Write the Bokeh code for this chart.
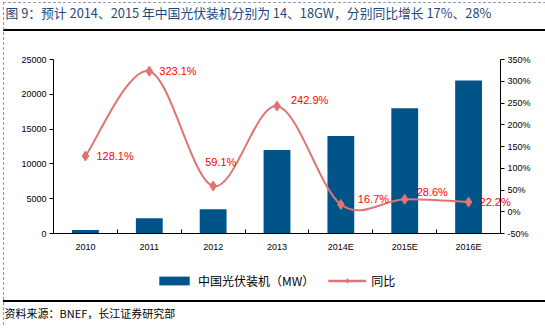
from bokeh.plotting import figure
from bokeh.models import (Range1d, LinearAxis, FixedTicker, Legend, LegendItem,
                          ColumnDataSource, NumeralTickFormatter, Title)
from bokeh.core.properties import value
from bokeh.embed import file_html
from bokeh.resources import INLINE

# ---- data ----
years = ["2010", "2011", "2012", "2013", "2014E", "2015E", "2016E"]
capacity_mw = [520, 2200, 3500, 12000, 14000, 18000, 22000]
yoy_pct = [128.1, 323.1, 59.1, 242.9, 16.7, 28.6, 22.2]
left_ticks = [0, 5000, 10000, 15000, 20000, 25000]
right_ticks = [-50, 0, 50, 100, 150, 200, 250, 300, 350]

title_text = "图 9：预计 2014、2015 年中国光伏装机分别为 14、18GW，分别同比增长 17%、28%"
source_text = "资料来源：BNEF，长江证券研究部"
bar_name = "中国光伏装机（MW）"
line_name = "同比"

# label placement (screen px offsets) - style only
lab_dx = [11, 10, -8, 14, 17, 12, 11]
lab_dy = [0, 0, -24, -6, -5, -7, 0]

BAR = "#005487"
LINE = "#E07474"
CJK = "Noto Sans CJK SC"
LAT = "Liberation Sans"
DASH = "#8C9BB5"

# layout geometry (px)
LEFT = 53         # left axis position
AX_R = 500        # right axis position
FT = 50           # frame top (a little above the axes so top labels are not clipped)
AX_TOP = 59       # top of value axes
AXIS_Y = 233      # where the value 0 sits
FB = 300          # frame bottom (frame extends down to hold the legend)
PAGE_W = 545
ncat = len(years)
cat_px = (AX_R - LEFT) / ncat
axis_h = AXIS_Y - AX_TOP
ext_dn = (FB - AXIS_Y) / axis_h
ext_up = (AX_TOP - FT) / axis_h
x_end = -0.5 + (PAGE_W - LEFT) / cat_px

ymax, pmin, pmax = 25000, -50, 350
xs = list(range(ncat))

p = figure(frame_width=PAGE_W - LEFT, frame_height=FB - FT, output_backend="svg",
           toolbar_location=None,
           x_range=Range1d(-0.5, x_end),
           y_range=Range1d(-ymax * ext_dn, ymax + ymax * ext_up),
           min_border_left=LEFT, min_border_right=0, min_border_top=FT,
           min_border_bottom=0, x_axis_location=None, y_axis_location=None)
p.outline_line_color = None
p.xgrid.visible = False
p.ygrid.visible = False
p.border_fill_alpha = 0
p.background_fill_alpha = 0
prange = pmax - pmin
p.extra_y_ranges = {"pct": Range1d(pmin - prange * ext_dn, pmax + prange * ext_up),
                    "legend_only": Range1d(10000, 20000)}

# header title (spacer keeps it at the top of the page)
p.add_layout(Title(text=" ", text_font_size="2px", standoff=25), "above")
p.add_layout(Title(text=title_text, align="left", offset=-48, standoff=0,
                   vertical_align="bottom",
                   text_font=CJK, text_font_size="12.8px", text_font_style="normal",
                   text_color="#1F497D"), "above")

xaxis = LinearAxis(ticker=FixedTicker(ticks=xs, minor_ticks=[i - 0.5 for i in range(ncat + 1)]),
                   major_label_overrides={i: y for i, y in enumerate(years)},
                   fixed_location=0, bounds=(-0.5, ncat - 0.5))
xaxis.major_tick_line_color = None
xaxis.minor_tick_in = 4
xaxis.minor_tick_out = 0
xaxis.minor_tick_line_color = "black"
xaxis.major_label_text_font = LAT
xaxis.major_label_text_font_size = "9px"
xaxis.major_label_text_color = "black"
xaxis.major_label_standoff = 2
p.add_layout(xaxis, "below")

laxis = LinearAxis(ticker=FixedTicker(ticks=left_ticks), bounds=(0, ymax))
laxis.minor_tick_line_color = None
laxis.major_tick_in = 0
laxis.major_tick_out = 4
laxis.major_label_text_font = LAT
laxis.major_label_text_font_size = "9px"
laxis.major_label_text_color = "black"
laxis.major_label_standoff = 3
laxis.formatter = NumeralTickFormatter(format="0")
p.add_layout(laxis, "left")

raxis = LinearAxis(y_range_name="pct", ticker=FixedTicker(ticks=right_ticks),
                   bounds=(pmin, pmax), fixed_location=ncat - 0.5,
                   major_label_overrides={t: f"{t}%" for t in right_ticks})
raxis.minor_tick_line_color = None
raxis.major_tick_in = 0
raxis.major_tick_out = 4
raxis.major_label_text_font = LAT
raxis.major_label_text_font_size = "9px"
raxis.major_label_text_color = "black"
raxis.major_label_standoff = 3
p.add_layout(raxis, "right")

bars = p.vbar(x=xs, top=capacity_mw, width=0.42, fill_color=BAR, line_color=None)

# smooth line: cubic bezier segments with Catmull-Rom control points from the data
n = len(xs)
bz = dict(x0=[], y0=[], x1=[], y1=[], cx0=[], cy0=[], cx1=[], cy1=[])
for i in range(n - 1):
    pm = i - 1 if i > 0 else i
    pn = i + 2 if i + 2 < n else i + 1
    bz["x0"].append(xs[i]); bz["y0"].append(yoy_pct[i])
    bz["x1"].append(xs[i + 1]); bz["y1"].append(yoy_pct[i + 1])
    bz["cx0"].append(xs[i] + (xs[i + 1] - xs[pm]) / 6)
    bz["cy0"].append(yoy_pct[i] + (yoy_pct[i + 1] - yoy_pct[pm]) / 6)
    bz["cx1"].append(xs[i + 1] - (xs[pn] - xs[i]) / 6)
    bz["cy1"].append(yoy_pct[i + 1] - (yoy_pct[pn] - yoy_pct[i]) / 6)
bez_r = p.bezier(source=ColumnDataSource(bz), x0="x0", y0="y0", x1="x1", y1="y1",
                 cx0="cx0", cy0="cy0", cx1="cx1", cy1="cy1",
                 line_color=LINE, line_width=2, y_range_name="pct")
marks = p.scatter(x=xs, y=yoy_pct, marker="diamond", size=10, fill_color=LINE,
                  line_color=LINE, y_range_name="pct")

src = ColumnDataSource(dict(x=xs, y=yoy_pct, t=[f"{v:.1f}%" for v in yoy_pct],
                            dx=lab_dx, dy=lab_dy))
p.text(x="x", y="y", text="t", x_offset="dx", y_offset="dy", source=src,
       text_color="#FF0000", text_font=value(LAT), text_font_size="11px",
       text_align="left", text_baseline="middle", y_range_name="pct")

# line renderer used only for the legend swatch (mapped to a range where it is off-frame)
line_r = p.line(x=xs, y=yoy_pct, line_color=LINE, line_width=2.5,
                y_range_name="legend_only")
legend = Legend(items=[LegendItem(label=bar_name, renderers=[bars]),
                       LegendItem(label=line_name, renderers=[line_r, bez_r, marks])],
                orientation="horizontal", location=(102, FB - 289),
                glyph_width=38, glyph_height=11, label_height=12, label_standoff=5,
                spacing=14, label_text_font=CJK, label_text_font_size="12px",
                label_text_color="black",
                background_fill_alpha=0, border_line_color=None, padding=0, margin=0)
p.add_layout(legend, "center")

# footer source
p.add_layout(Title(text=source_text, align="left", offset=-49, standoff=8,
                   vertical_align="top",
                   text_font=CJK, text_font_size="11px", text_font_style="normal",
                   text_color="black"), "below")

bg = (f"repeating-linear-gradient(to bottom, {DASH} 0 3px, transparent 3px 5px) 3px 2px / 1px 324px no-repeat, "
      f"repeating-linear-gradient(to right, {DASH} 0 3px, transparent 3px 5px) 3px 2px / 542px 1px no-repeat, "
      f"repeating-linear-gradient(to right, {DASH} 0 3px, transparent 3px 5px) 3px 326px / 542px 1px no-repeat, "
      f"linear-gradient(black, black) 3px 29px / 542px 2px no-repeat, "
      f"linear-gradient(black, black) 3px 300px / 542px 2px no-repeat, white")
p.styles = {"background": bg}

open("out.html", "w").write(file_html(p, INLINE))
